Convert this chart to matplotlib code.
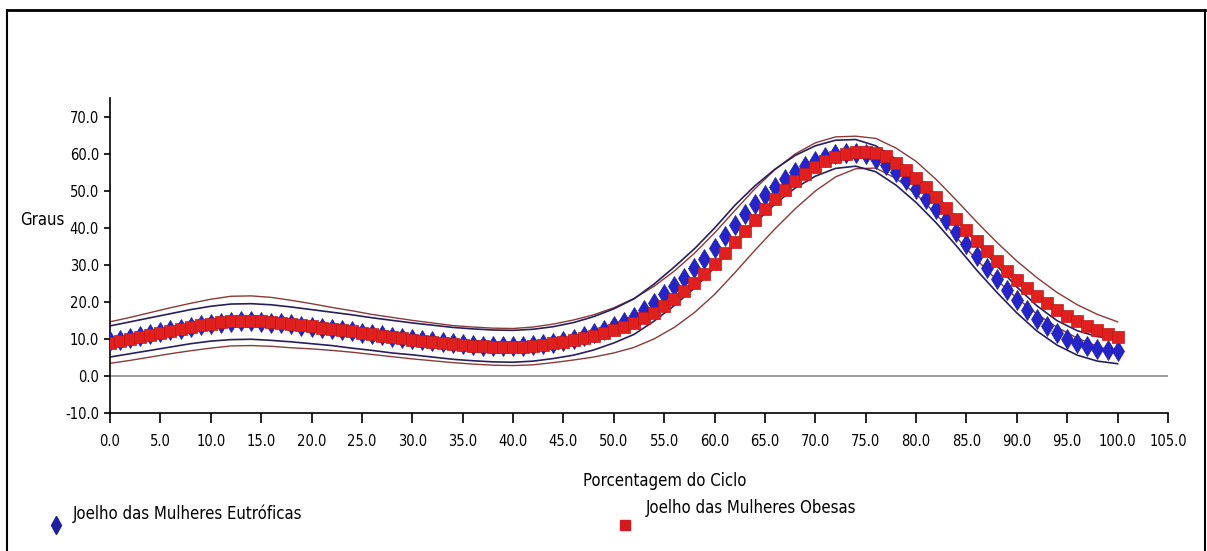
import numpy as np
import matplotlib
matplotlib.use('Agg')
import matplotlib.pyplot as plt
from matplotlib.lines import Line2D

FONT = ['DejaVu Sans']
STRETCH = 'condensed'
W, H = 1207, 551

# Percentage of gait cycle (one point per 1%)
cycle = list(range(0, 101))

# Knee angle, eutrophic women (blue diamonds)
eutroficas = [
    9.3, 9.8, 10.3, 10.8, 11.3, 11.8, 12.3, 12.8, 13.3, 13.7,
    14.1, 14.4, 14.6, 14.7, 14.7, 14.6, 14.4, 14.2, 13.9, 13.6,
    13.3, 13.0, 12.7, 12.3, 12.0, 11.6, 11.3, 11.0, 10.6, 10.3,
    10.0, 9.7, 9.4, 9.1, 8.8, 8.6, 8.4, 8.2, 8.1, 8.0,
    8.0, 8.1, 8.3, 8.6, 9.0, 9.5, 10.0, 10.7, 11.5, 12.4,
    13.5, 14.6, 16.0, 17.8, 19.8, 22.0, 24.2, 26.5, 29.0, 31.6,
    34.6, 37.8, 40.8, 43.6, 46.3, 48.8, 51.1, 53.2, 55.1, 56.7,
    58.0, 59.1, 59.8, 60.2, 60.2, 59.8, 58.6, 57.0, 55.0, 52.8,
    50.4, 47.8, 45.0, 42.0, 38.8, 35.5, 32.3, 29.2, 26.2, 23.3,
    20.5, 17.9, 15.5, 13.4, 11.6, 10.1, 8.9, 8.0, 7.3, 6.9,
    6.7,
]

# Knee angle, obese women (red squares)
obesas = [
    9.0, 9.5, 10.0, 10.6, 11.1, 11.7, 12.2, 12.7, 13.2, 13.7,
    14.1, 14.5, 14.8, 14.9, 14.9, 14.8, 14.6, 14.3, 14.0, 13.7,
    13.4, 13.0, 12.7, 12.3, 12.0, 11.6, 11.2, 10.9, 10.5, 10.2,
    9.8, 9.5, 9.2, 8.9, 8.6, 8.4, 8.2, 8.0, 7.9, 7.8,
    7.8, 7.9, 8.1, 8.4, 8.8, 9.2, 9.7, 10.2, 10.8, 11.5,
    12.3, 13.2, 14.3, 15.6, 17.1, 18.8, 20.7, 22.8, 25.1, 27.6,
    30.3, 33.2, 36.2, 39.2, 42.2, 45.0, 47.7, 50.2, 52.5, 54.6,
    56.4, 57.9, 59.1, 59.9, 60.3, 60.4, 60.1, 59.3, 57.4, 55.6,
    53.5, 51.0, 48.3, 45.4, 42.4, 39.4, 36.5, 33.7, 31.0, 28.4,
    26.0, 23.7, 21.6, 19.6, 17.8, 16.1, 14.7, 13.4, 12.3, 11.3,
    10.4,
]

# Standard deviation bands, read every 2% of the cycle
sd_cycle = list(range(0, 101, 2))
sd_eutroficas = [
    4.2, 4.3, 4.4, 4.5, 4.6, 4.7, 4.8, 4.8, 4.8, 4.7,
    4.6, 4.5, 4.5, 4.4, 4.4, 4.3, 4.3, 4.3, 4.3, 4.3,
    4.3, 4.3, 4.3, 4.4, 4.5, 4.6, 4.8, 5.0, 5.2, 5.3,
    5.3, 5.2, 5.0, 4.7, 4.4, 4.1, 3.8, 3.6, 3.5, 3.5,
    3.6, 3.7, 3.7, 3.7, 3.6, 3.5, 3.4, 3.3, 3.3, 3.3,
    3.4,
]
sd_obesas = [
    5.6, 5.8, 6.0, 6.2, 6.4, 6.6, 6.7, 6.7, 6.6, 6.4,
    6.1, 5.8, 5.6, 5.4, 5.3, 5.2, 5.1, 5.0, 5.0, 5.0,
    5.0, 5.1, 5.2, 5.4, 5.7, 6.1, 6.6, 7.1, 7.6, 8.0,
    8.3, 8.4, 8.3, 8.0, 7.4, 6.5, 5.4, 4.4, 4.0, 4.1,
    4.4, 4.7, 5.0, 5.1, 5.1, 5.0, 4.9, 4.7, 4.5, 4.3,
    4.2,
]

x_ticks = np.arange(0, 106, 5)
y_ticks = np.arange(-10, 71, 10)


def fx(px):
    return px / W


def fy(py):
    return 1 - py / H


fig = plt.figure(figsize=(12.07, 5.51), dpi=100)
ax = fig.add_axes([fx(110), fy(413), fx(1168) - fx(110), fy(98) - fy(413)])

# Mean +/- SD lines for each group
e_mean2 = np.array(eutroficas)[::2]
o_mean2 = np.array(obesas)[::2]
band_e = '#2a1f5e'
band_o = '#8a3a3a'
ax.plot(sd_cycle, o_mean2 + np.array(sd_obesas), color=band_o, lw=1.0, zorder=2)
ax.plot(sd_cycle, o_mean2 - np.array(sd_obesas), color=band_o, lw=1.0, zorder=2)
ax.plot(sd_cycle, e_mean2 + np.array(sd_eutroficas), color=band_e, lw=1.2, zorder=2)
ax.plot(sd_cycle, e_mean2 - np.array(sd_eutroficas), color=band_e, lw=1.2, zorder=2)

# Mean curves
ax.plot(cycle, eutroficas, ls='none', marker='d', ms=10, color='#2424c8',
        mec='#1e1ea0', mew=0.5, zorder=3)
ax.plot(cycle, obesas, ls='none', marker='s', ms=8, color='#e01f1f',
        mec='#c01818', mew=0.5, zorder=4)

# Zero reference line
ax.axhline(0, color='#8c8c8c', lw=1.2, zorder=1)

ax.set_xlim(0, 105)
ax.set_ylim(-10, 75)
ax.set_xticks(x_ticks)
ax.set_yticks(y_ticks)
ax.set_xticklabels(['%.1f' % v for v in x_ticks], family=FONT,
                   fontstretch=STRETCH, fontsize=10.5)
ax.set_yticklabels(['%.1f' % v for v in y_ticks], family=FONT,
                   fontstretch=STRETCH, fontsize=10.5)
ax.tick_params(axis='both', direction='out', width=1.2, color='black')
ax.tick_params(axis='x', length=7, pad=8)
ax.tick_params(axis='y', length=4, pad=4)

for side in ['top', 'right']:
    ax.spines[side].set_visible(False)
for side in ['left', 'bottom']:
    ax.spines[side].set_linewidth(1.2)
ax.patch.set_visible(False)

# Axis titles
fig.text(fx(42), fy(220), 'Graus', family=FONT, fontstretch=STRETCH,
         fontsize=12, ha='center', va='center')
fig.text(fx(665), fy(481), 'Porcentagem do Ciclo', family=FONT,
         fontstretch=STRETCH, fontsize=12, ha='center', va='center')

# Legend entries
fig.add_artist(Line2D([fx(56)], [fy(525)], marker='d', ms=9,
                      color='#1e1ea0', ls='none', transform=fig.transFigure))
fig.text(fx(73), fy(514), 'Joelho das Mulheres Eutróficas',
         family=FONT, fontstretch=STRETCH, fontsize=12, ha='left', va='center')
fig.add_artist(Line2D([fx(625)], [fy(525)], marker='s', ms=7,
                      color='#d01c1c', ls='none', transform=fig.transFigure))
fig.text(fx(646), fy(508), 'Joelho das Mulheres Obesas',
         family=FONT, fontstretch=STRETCH, fontsize=12, ha='left', va='center')

# Frame around the picture
fig.add_artist(Line2D([fx(7), fx(1205)], [fy(10), fy(10)], color='black',
                      lw=2, transform=fig.transFigure))
fig.add_artist(Line2D([fx(7), fx(7)], [0, fy(10)], color='black',
                      lw=1.5, transform=fig.transFigure))
fig.add_artist(Line2D([fx(1205), fx(1205)], [0, fy(10)], color='black',
                      lw=1.5, transform=fig.transFigure))

plt.savefig('out.png', dpi=100)
plt.close()
